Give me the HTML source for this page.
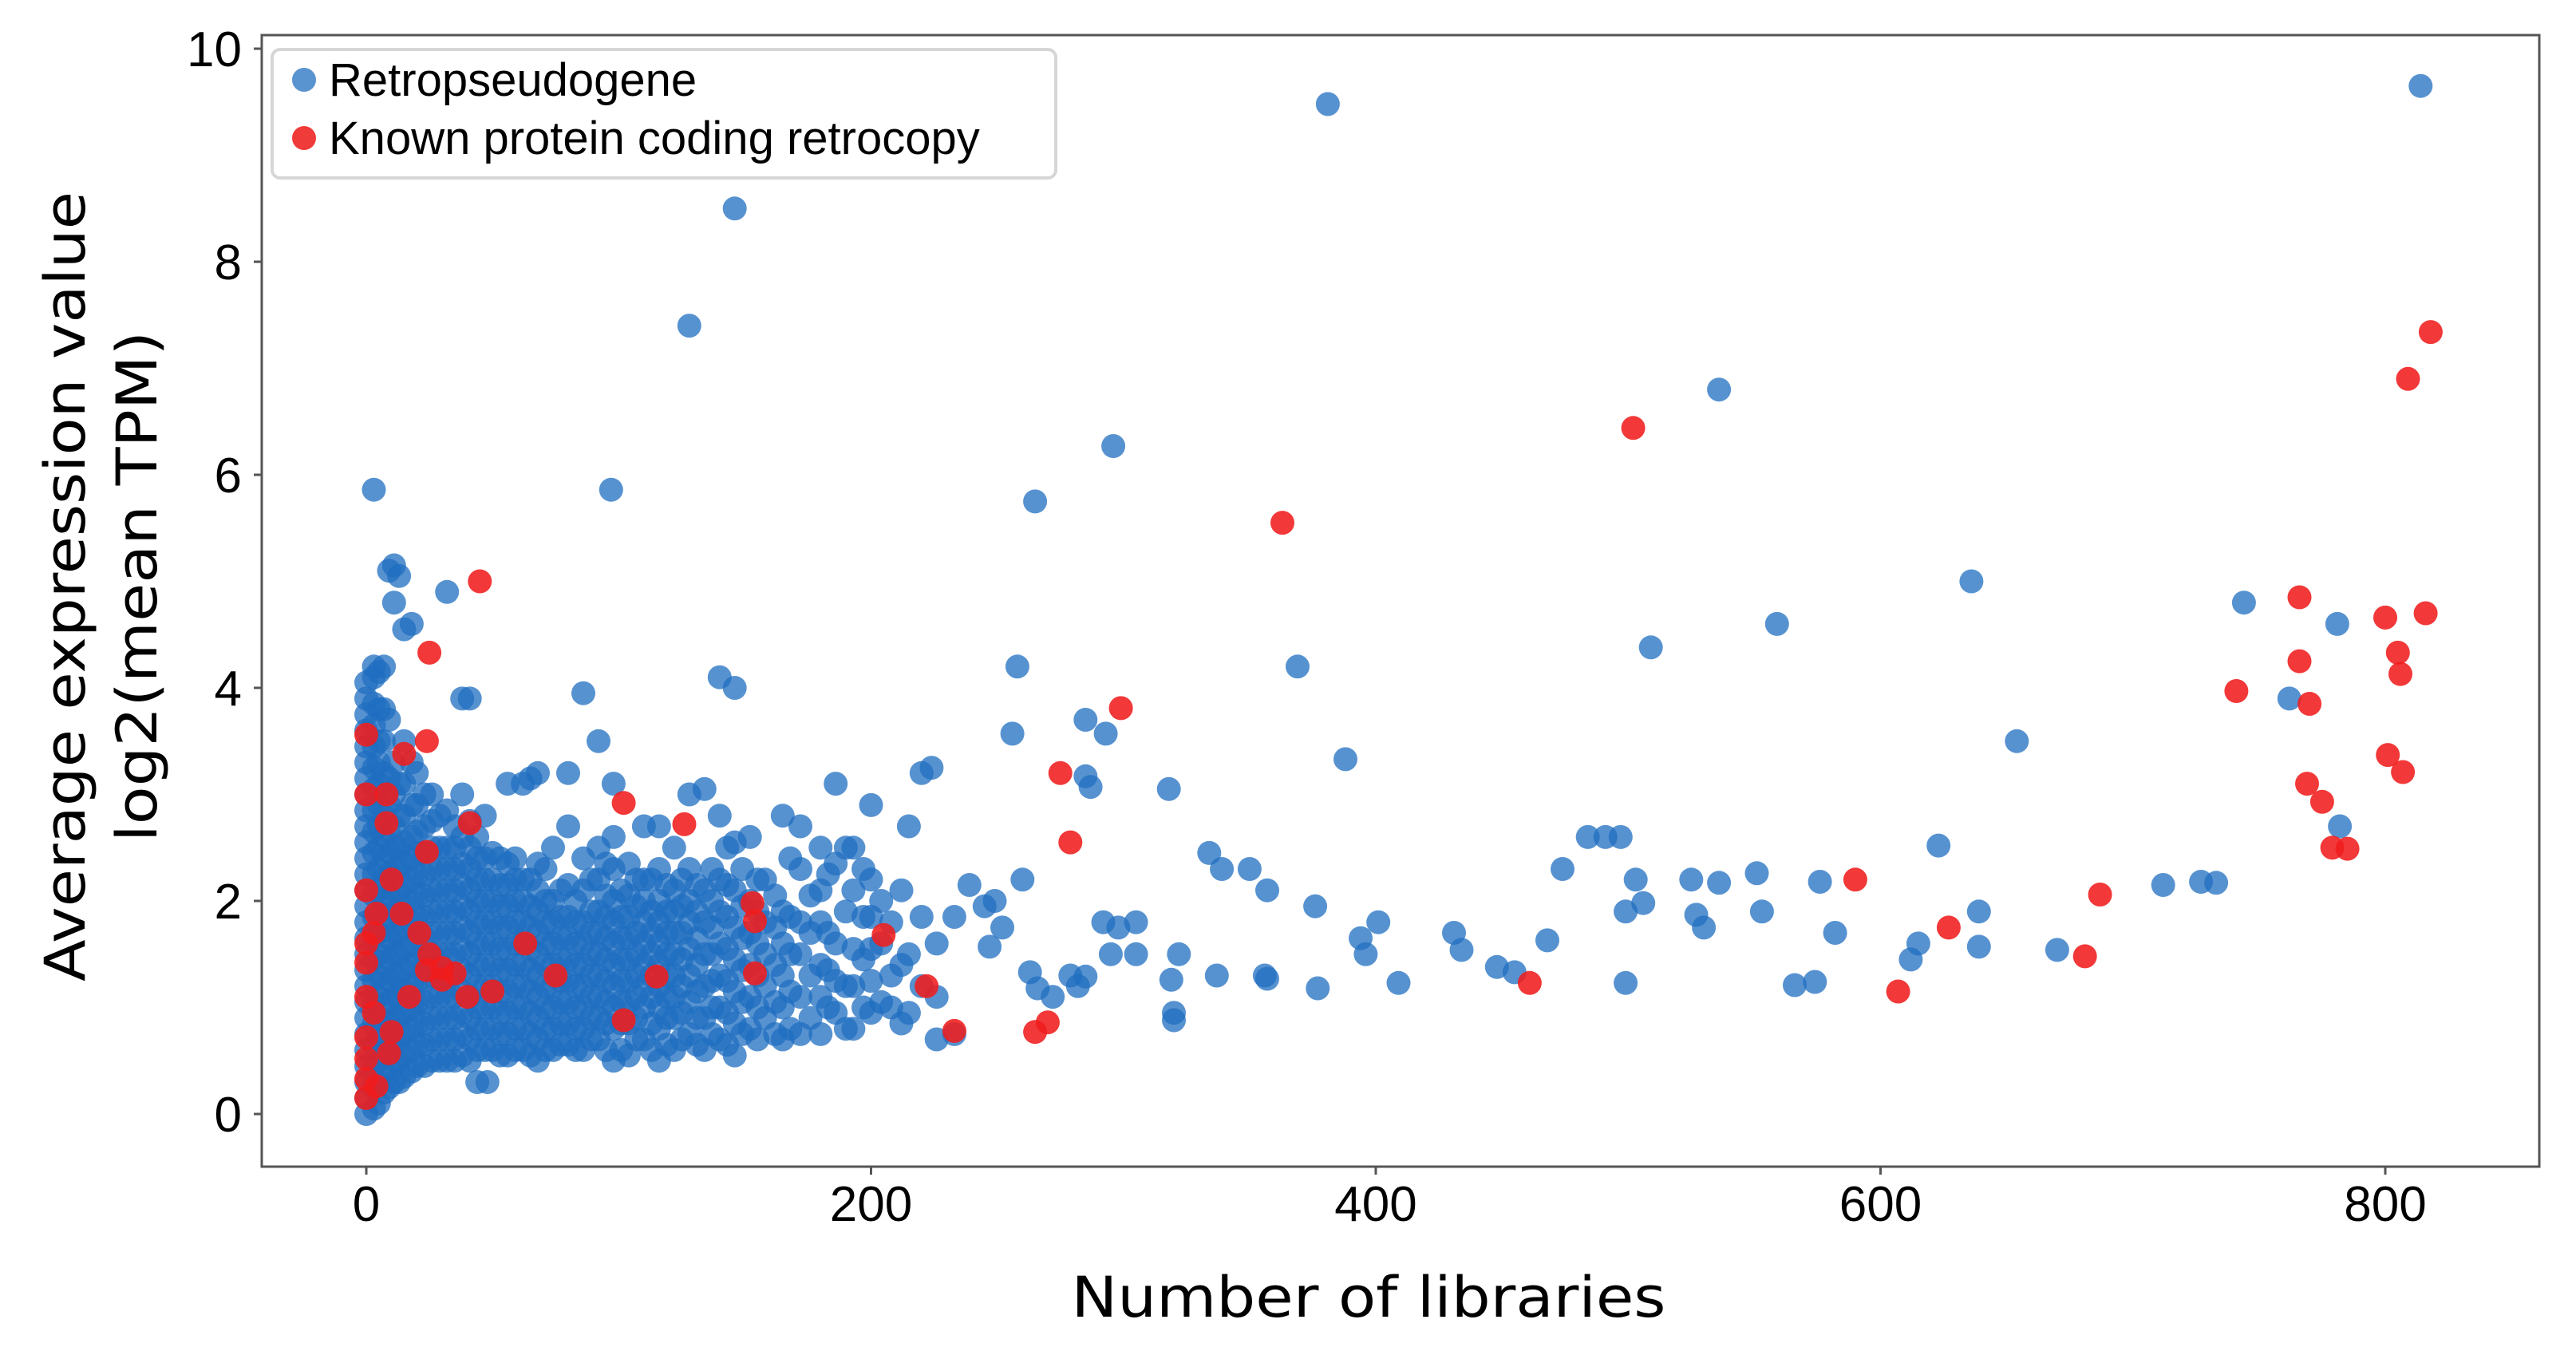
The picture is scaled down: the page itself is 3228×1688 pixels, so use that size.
<!DOCTYPE html>
<html><head><meta charset="utf-8">
<style>
html,body{margin:0;padding:0;background:#fff;}
svg{display:block;}
</style></head>
<body>
<svg id="chart" width="3228" height="1688" viewBox="0 0 3228 1688" xmlns="http://www.w3.org/2000/svg">
<rect x="0" y="0" width="3228" height="1688" fill="#fff"/>
<g id="points"></g>
<rect x="328" y="44" width="2854" height="1418" fill="none" stroke="#555" stroke-width="3"/>
<g id="axes"></g>
<text x="1715" y="1650" text-anchor="middle" font-family="DejaVu Sans, sans-serif" font-size="70" textLength="745" lengthAdjust="spacingAndGlyphs" fill="#000">Number of libraries</text>
<text transform="translate(106,735) rotate(-90)" text-anchor="middle" font-family="DejaVu Sans, sans-serif" font-size="70" textLength="990" lengthAdjust="spacingAndGlyphs" fill="#000">Average expression value</text>
<text transform="translate(196,735) rotate(-90)" text-anchor="middle" font-family="DejaVu Sans, sans-serif" font-size="70" textLength="640" lengthAdjust="spacingAndGlyphs" fill="#000">log2(mean TPM)</text>
<g>
<rect x="341" y="62" width="982" height="161" rx="10" fill="#fff" fill-opacity="0.85" stroke="#d6d6d6" stroke-width="4"/>
<circle cx="381" cy="100" r="15" fill="rgba(47,120,196,0.8)"/>
<text x="412" y="120" font-family="Liberation Sans, sans-serif" font-size="58" fill="#000">Retropseudogene</text>
<circle cx="381" cy="173" r="15" fill="rgba(238,32,32,0.88)"/>
<text x="412" y="193" font-family="Liberation Sans, sans-serif" font-size="58" fill="#000">Known protein coding retrocopy</text>
</g>
</svg>
<script>
const xTicks = [0, 200, 400, 600, 800];
const yTicks = [0, 2, 4, 6, 8, 10];
const xTickLabels = ["0", "200", "400", "600", "800"];
const yTickLabels = ["0", "2", "4", "6", "8", "10"];

// Dense retropseudogene columns: library count and expression values
const blueColX = [0,3,5,7,9,11,13,15,18,20,23,26,29,32,35,38,41,44,47,50,53,56,59,62,65,68,71,74,77,80,83,86,89,92,95,98,101,104,107,110,113,116,119,122,125,128,131,134,137,140,143,146,149,152,155,158,162,165,168,172,176,180,183,186,190,193,197,200,204,208,212,215,220,226,233];
const blueColY = [
[0,0.15,0.3,0.45,0.6,0.75,0.9,1.05,1.2,1.35,1.5,1.65,1.8,1.95,2.1,2.25,2.4,2.55,2.7,2.85,3.0,3.15,3.3,3.45,3.6,3.75,3.9,4.05],
[0.05,0.25,0.45,0.65,0.85,1.05,1.25,1.45,1.65,1.85,2.05,2.25,2.45,2.65,2.85,3.05,3.25,3.45,3.65,3.85,4.1,4.2],
[0.1,0.3,0.5,0.7,0.9,1.1,1.3,1.5,1.7,1.9,2.1,2.3,2.5,2.7,2.9,3.1,3.3,3.5,3.8,4.15],
[0.2,0.4,0.6,0.8,1.0,1.2,1.4,1.6,1.8,2.0,2.2,2.4,2.6,2.8,3.0,3.2,3.5,3.8,4.2],
[0.25,0.45,0.65,0.85,1.05,1.25,1.45,1.65,1.85,2.05,2.25,2.45,2.65,2.9,3.15,3.7,5.1],
[0.3,0.5,0.7,0.9,1.1,1.3,1.5,1.7,1.9,2.1,2.3,2.5,2.7,3.0,3.3,4.8,5.15],
[0.3,0.5,0.7,0.9,1.1,1.3,1.5,1.7,1.9,2.1,2.3,2.5,2.8,3.1,5.05],
[0.35,0.55,0.75,0.95,1.15,1.35,1.55,1.75,1.95,2.15,2.35,2.55,2.8,3.1,3.5,4.55],
[0.4,0.6,0.8,1.0,1.2,1.4,1.6,1.8,2.0,2.2,2.4,2.6,2.9,3.3,4.6],
[0.45,0.65,0.85,1.05,1.25,1.45,1.65,1.85,2.05,2.25,2.45,2.65,2.9,3.2],
[0.45,0.65,0.85,1.05,1.25,1.45,1.65,1.85,2.05,2.25,2.45,2.7,3.0],
[0.5,0.7,0.9,1.1,1.3,1.5,1.7,1.9,2.1,2.3,2.5,2.75,3.0],
[0.5,0.7,0.9,1.1,1.3,1.5,1.7,1.9,2.1,2.3,2.5,2.8],
[0.5,0.7,0.9,1.1,1.3,1.5,1.7,1.9,2.1,2.3,2.5,2.85,4.9],
[0.5,0.7,0.9,1.1,1.3,1.5,1.7,1.9,2.1,2.3,2.5,2.7],
[0.55,0.75,0.95,1.15,1.35,1.55,1.75,1.95,2.15,2.35,2.6,3.0,3.9],
[0.5,0.7,0.9,1.1,1.3,1.5,1.7,1.9,2.1,2.3,2.5,2.75,3.9],
[0.3,0.6,0.8,1.0,1.2,1.4,1.6,1.8,2.0,2.2,2.4,2.6],
[0.6,0.8,1.0,1.2,1.4,1.6,1.8,2.0,2.2,2.4,2.8],
[0.6,0.8,1.0,1.2,1.4,1.6,1.8,2.0,2.2,2.45],
[0.55,0.75,0.95,1.15,1.35,1.55,1.75,1.95,2.15,2.4],
[0.55,0.75,0.95,1.15,1.35,1.55,1.75,1.95,2.15,2.35,3.1],
[0.6,0.8,1.0,1.2,1.4,1.6,1.8,2.0,2.2,2.4],
[0.6,0.8,1.0,1.2,1.4,1.6,1.8,2.0,2.2,3.1],
[0.55,0.75,0.95,1.15,1.35,1.55,1.75,1.95,2.2,3.15],
[0.5,0.7,0.9,1.1,1.3,1.5,1.7,1.9,2.1,2.35,3.2],
[0.6,0.8,1.0,1.2,1.4,1.6,1.8,2.0,2.3],
[0.6,0.8,1.0,1.2,1.4,1.6,1.8,2.0,2.5],
[0.65,0.85,1.05,1.25,1.45,1.65,1.85,2.1],
[0.65,0.85,1.05,1.25,1.45,1.65,1.85,2.15,2.7,3.2],
[0.6,0.8,1.0,1.2,1.4,1.6,1.8,2.0],
[0.6,0.8,1.0,1.2,1.4,1.6,1.8,2.1,2.4,3.95],
[0.7,0.9,1.1,1.3,1.5,1.7,1.9,2.2],
[0.7,0.9,1.1,1.3,1.5,1.7,1.9,2.2,2.5,3.5],
[0.6,0.85,1.05,1.25,1.45,1.65,1.85,2.05,2.35],
[0.5,0.8,1.0,1.2,1.4,1.6,1.8,2.0,2.3,2.6,3.1],
[0.6,0.85,1.05,1.25,1.45,1.65,1.85,2.1],
[0.55,0.85,1.05,1.25,1.45,1.65,1.85,2.05,2.35],
[0.7,0.9,1.1,1.3,1.5,1.7,1.95,2.2],
[0.7,1.0,1.2,1.4,1.6,1.8,2.0,2.2,2.7],
[0.6,0.85,1.1,1.3,1.5,1.7,1.9,2.2],
[0.5,0.8,1.0,1.2,1.4,1.6,1.8,2.0,2.3,2.7],
[0.65,0.9,1.1,1.3,1.5,1.7,1.9,2.15],
[0.6,0.9,1.1,1.3,1.5,1.7,1.9,2.1,2.5],
[0.7,0.95,1.2,1.45,1.7,1.95,2.2],
[0.75,1.05,1.3,1.55,1.8,2.0,2.3,3.0],
[0.65,0.9,1.15,1.4,1.65,1.9,2.15],
[0.6,0.9,1.2,1.5,1.8,2.1,3.05],
[0.75,1.0,1.25,1.5,1.75,2.0,2.3],
[0.7,1.0,1.3,1.6,1.9,2.2,2.8,4.1],
[0.65,0.95,1.25,1.55,1.85,2.15,2.5],
[0.55,0.85,1.15,1.45,1.75,2.1,2.55,4.0],
[0.75,1.05,1.35,1.65,1.95,2.3],
[0.8,1.1,1.4,1.7,2.0,2.6],
[0.7,1.0,1.3,1.6,1.9,2.2],
[0.9,1.2,1.5,1.8,2.2],
[0.75,1.05,1.4,1.75,2.05],
[0.7,1.0,1.3,1.6,1.9,2.8],
[0.8,1.15,1.5,1.85,2.4],
[0.75,1.1,1.5,1.8,2.3,2.7],
[0.9,1.3,1.7,2.05],
[0.75,1.1,1.4,1.8,2.1,2.5],
[1.0,1.35,1.7,2.25],
[0.95,1.25,1.6,2.35,3.1],
[0.8,1.2,1.9,2.5],
[0.8,1.2,1.55,2.1,2.5],
[1.0,1.45,1.85,2.3],
[0.95,1.25,1.55,1.85,2.2,2.9],
[1.05,1.6,2.0],
[1.0,1.3,1.8],
[0.85,1.4,2.1],
[0.95,1.5,2.7],
[1.2,1.85,3.2],
[0.7,1.1,1.6],
[0.75,1.85]];

// Sparse retropseudogene points (library count, expression)
const blueX = [3,97,128,146,381,814,296,265,369,536,509,559,636,744,781,762,782,654,388,258,256,285,293,285,287,318,224,245,239,249,260,252,247,263,266,272,282,279,285,292,298,305,295,305,319,322,320,320,334,339,350,357,356,357,337,376,377,394,401,396,409,431,434,448,455,468,474,484,491,497,503,499,506,499,525,527,530,536,551,553,566,574,576,582,612,615,623,639,639,670,712,727,733,48];
const blueY = [5.86,5.86,7.4,8.5,9.48,9.65,6.27,5.75,4.2,6.8,4.38,4.6,5.0,4.8,4.6,3.9,2.7,3.5,3.33,4.2,3.57,3.7,3.57,3.17,3.07,3.05,3.25,1.95,2.15,2.0,2.2,1.75,1.57,1.33,1.18,1.1,1.2,1.3,1.29,1.8,1.75,1.8,1.5,1.5,1.26,1.5,0.95,0.88,2.45,2.3,2.3,2.1,1.3,1.27,1.3,1.95,1.18,1.65,1.8,1.5,1.23,1.7,1.54,1.38,1.33,1.63,2.3,2.6,2.6,2.6,2.2,1.9,1.98,1.23,2.2,1.87,1.75,2.17,2.26,1.9,1.21,1.24,2.18,1.7,1.45,1.6,2.52,1.9,1.57,1.54,2.15,2.18,2.17,0.3];

// Known protein coding retrocopies (library count, expression)
const redX = [45,25,363,502,809,818,816,766,766,800,805,806,741,770,801,807,769,775,779,785,299,275,279,590,687,627,681,607,461,270,265,233,222,205,153,154,154,126,102,102,115,63,75,41,24,15,0,0,8,8,24,0,10,14,4,0,3,0,21,24,30,35,40,17,0,3,0,10,0,0,4,0,9,25,30,50];
const redY = [5.0,4.33,5.55,6.44,6.9,7.34,4.7,4.85,4.25,4.66,4.33,4.13,3.97,3.85,3.37,3.21,3.1,2.93,2.5,2.49,3.81,3.2,2.55,2.2,2.06,1.75,1.48,1.15,1.23,0.86,0.77,0.78,1.2,1.68,1.98,1.81,1.32,2.72,2.92,0.88,1.29,1.6,1.3,2.73,3.5,3.38,3.56,3.0,3.0,2.73,2.46,2.1,2.2,1.88,1.88,1.6,1.7,1.42,1.7,1.35,1.37,1.32,1.1,1.1,1.1,0.95,0.72,0.77,0.52,0.33,0.26,0.15,0.57,1.5,1.26,1.15];

const NS = "http://www.w3.org/2000/svg";
const X0 = 459, XPER = 3.1625, Y0 = 1396, YPER = 133.5;
function xScale(v){ return X0 + v * XPER; }
function yScale(v){ return Y0 - v * YPER; }

const pts = document.getElementById('points');
const axes = document.getElementById('axes');

function dot(x, y, fill, name){
  const c = document.createElementNS(NS, 'circle');
  c.setAttribute('cx', xScale(x).toFixed(1));
  c.setAttribute('cy', yScale(y).toFixed(1));
  c.setAttribute('r', 15);
  c.setAttribute('fill', fill);
  
  
  pts.appendChild(c);
}
const BLUE = 'rgba(31,110,192,0.75)';
const RED = 'rgba(240,28,28,0.88)';
for (let i = 0; i < blueColX.length; i++) {
  for (const y of blueColY[i]) dot(blueColX[i], y, BLUE, 'retropseudogene-point');
}
for (let i = 0; i < blueX.length; i++) dot(blueX[i], blueY[i], BLUE, 'retropseudogene-point');
for (let i = 0; i < redX.length; i++) dot(redX[i], redY[i], RED, 'known-coding-point');

xTicks.forEach((t, i) => {
  const l = document.createElementNS(NS, 'line');
  l.setAttribute('x1', xScale(t)); l.setAttribute('x2', xScale(t));
  l.setAttribute('y1', 1462); l.setAttribute('y2', 1472);
  l.setAttribute('stroke', '#555'); l.setAttribute('stroke-width', 3);
  
  
  axes.appendChild(l);
  const tx = document.createElementNS(NS, 'text');
  tx.setAttribute('x', xScale(t)); tx.setAttribute('y', 1530);
  tx.setAttribute('text-anchor', 'middle');
  tx.setAttribute('font-family', 'Liberation Sans, sans-serif');
  tx.setAttribute('font-size', '62');
  tx.textContent = xTickLabels[i];
  
  
  axes.appendChild(tx);
});
yTicks.forEach((t, i) => {
  const l = document.createElementNS(NS, 'line');
  l.setAttribute('x1', 318); l.setAttribute('x2', 328);
  l.setAttribute('y1', yScale(t)); l.setAttribute('y2', yScale(t));
  l.setAttribute('stroke', '#555'); l.setAttribute('stroke-width', 3);
  
  
  axes.appendChild(l);
  const tx = document.createElementNS(NS, 'text');
  tx.setAttribute('x', 303); tx.setAttribute('y', yScale(t) + 22);
  tx.setAttribute('text-anchor', 'end');
  tx.setAttribute('font-family', 'Liberation Sans, sans-serif');
  tx.setAttribute('font-size', '62');
  tx.textContent = yTickLabels[i];
  
  
  axes.appendChild(tx);
});
</script>
</body></html>
